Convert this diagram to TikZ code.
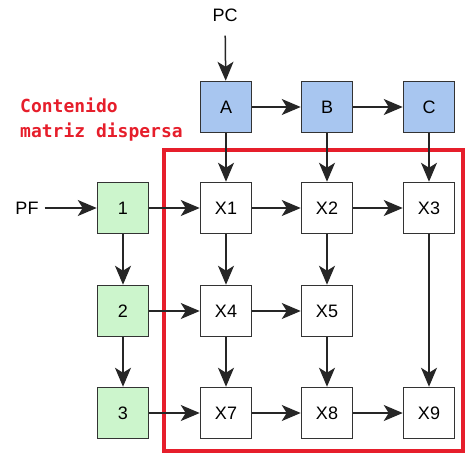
\documentclass[tikz,border=0pt]{standalone}
\usepackage{fontspec}
\setmainfont{Liberation Sans}
\newfontfamily\redmono{DejaVu Sans Mono}
\usetikzlibrary{arrows.meta}
\definecolor{boxblue}{HTML}{A8C6F0}
\definecolor{boxgreen}{HTML}{CCF5CC}
\definecolor{frame}{HTML}{E61E2B}
\definecolor{edge}{HTML}{333333}
\tikzset{
  cell/.style={draw=edge, line width=1.5pt, minimum width=51pt, minimum height=51pt, inner sep=0pt, font=\fontsize{18}{21}\selectfont},
  headbox/.style={cell, fill=boxblue},
  rowbox/.style={cell, fill=boxgreen},
  valbox/.style={cell, fill=white},
  lbl/.style={inner sep=0pt, font=\fontsize{18}{21}\selectfont},
  conn/.style={draw=black!85, line width=1.5pt, -{Stealth[length=19pt,width=16pt,inset=5pt]}}
}
\begin{document}
\begin{tikzpicture}[x=1pt,y=-1pt]
\useasboundingbox (0,0) rectangle (468,456);
% red frame
\draw[frame, line width=4pt] (164,150) rectangle (463,451);
\node[anchor=base west, inner sep=0pt, text=frame, align=left, font=\redmono\bfseries\fontsize{18}{25}\selectfont] (title) at (20,137) {Contenido\\matriz dispersa};
% labels
\node[lbl] (PC) at (225,15) {PC};
\node[lbl] (PF) at (27,208) {PF};
% header row
\node[headbox] (A) at (226,107) {A};
\node[headbox] (B) at (327,107) {B};
\node[headbox] (C) at (429,107) {C};
% row boxes
\node[rowbox] (r1) at (123,208) {1};
\node[rowbox] (r2) at (123,311) {2};
\node[rowbox] (r3) at (123,413) {3};
% values
\node[valbox] (X1) at (226,208) {X1};
\node[valbox] (X2) at (327,208) {X2};
\node[valbox] (X3) at (429,208) {X3};
\node[valbox] (X4) at (226,311) {X4};
\node[valbox] (X5) at (327,311) {X5};
\node[valbox] (X7) at (226,413) {X7};
\node[valbox] (X8) at (327,413) {X8};
\node[valbox] (X9) at (429,413) {X9};
% connectors
\draw[conn, shorten <=14pt] (PC) -- (A);
\draw[conn, shorten <=6pt] (PF) -- (r1);
\draw[conn] (A) -- (B);
\draw[conn] (B) -- (C);
\draw[conn] (A) -- (X1);
\draw[conn] (B) -- (X2);
\draw[conn] (C) -- (X3);
\draw[conn] (r1) -- (X1);
\draw[conn] (X1) -- (X2);
\draw[conn] (X2) -- (X3);
\draw[conn] (r1) -- (r2);
\draw[conn] (r2) -- (r3);
\draw[conn] (X1) -- (X4);
\draw[conn] (X2) -- (X5);
\draw[conn] (X3) -- (X9);
\draw[conn] (r2) -- (X4);
\draw[conn] (X4) -- (X5);
\draw[conn] (X4) -- (X7);
\draw[conn] (X5) -- (X8);
\draw[conn] (r3) -- (X7);
\draw[conn] (X7) -- (X8);
\draw[conn] (X8) -- (X9);
\end{tikzpicture}
\end{document}
